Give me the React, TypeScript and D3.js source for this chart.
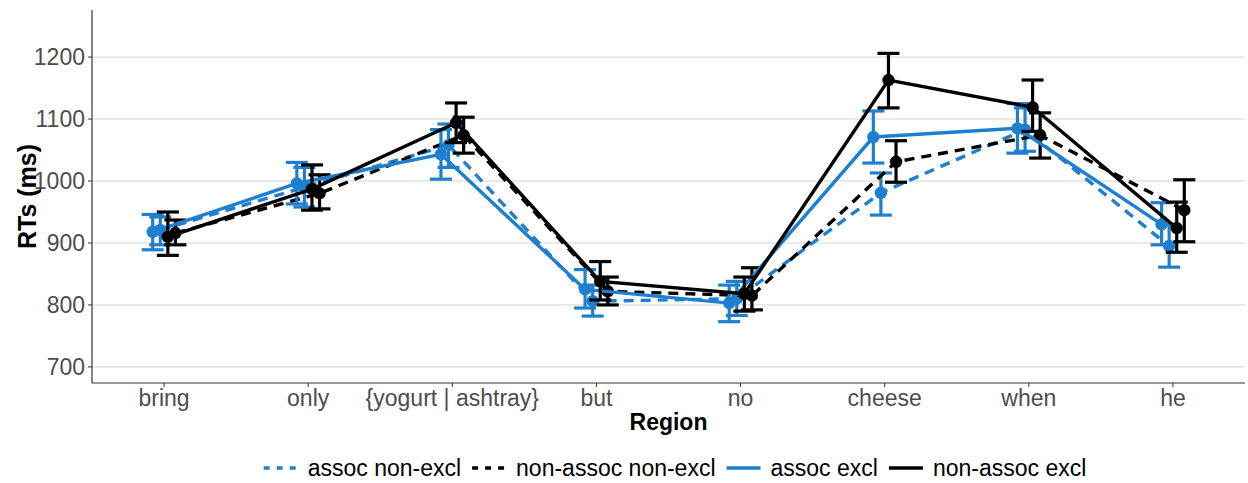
import React from "react";
import * as d3 from "d3";

const regions = ["bring", "only", "{yogurt | ashtray}", "but", "no", "cheese", "when", "he"];

// series in dodge order (alphabetical, as ggplot does)
const seriesNames = ["assoc excl", "assoc non-excl", "non-assoc excl", "non-assoc non-excl"];

const assocExcl = [918, 996, 1043, 825, 803, 1071, 1085, 930];
const assocExclLo = [889, 963, 1003, 795, 773, 1029, 1045, 897];
const assocExclHi = [946, 1030, 1083, 857, 832, 1113, 1125, 965];

const assocNonExcl = [921, 990, 1058, 806, 810, 981, 1083, 895];
const assocNonExclLo = [897, 958, 1022, 782, 783, 945, 1048, 861];
const assocNonExclHi = [942, 1022, 1092, 832, 838, 1013, 1118, 930];

const nonAssocExcl = [910, 987, 1094, 838, 818, 1163, 1119, 924];
const nonAssocExclLo = [880, 953, 1062, 808, 790, 1118, 1080, 885];
const nonAssocExclHi = [950, 1026, 1126, 870, 845, 1206, 1163, 966];

const nonAssocNonExcl = [916, 980, 1074, 822, 815, 1031, 1074, 953];
const nonAssocNonExclLo = [897, 955, 1045, 800, 792, 998, 1037, 902];
const nonAssocNonExclHi = [937, 1010, 1103, 845, 860, 1065, 1110, 1002];

const yTicks = [700, 800, 900, 1000, 1100, 1200];
const legendOrder = ["assoc non-excl", "non-assoc non-excl", "assoc excl", "non-assoc excl"];

const BLUE = "#1f7fcf";
const BLACK = "#000000";

const series = [
  { name: "assoc excl", mean: assocExcl, lo: assocExclLo, hi: assocExclHi, color: BLUE, dashed: false },
  { name: "assoc non-excl", mean: assocNonExcl, lo: assocNonExclLo, hi: assocNonExclHi, color: BLUE, dashed: true },
  { name: "non-assoc excl", mean: nonAssocExcl, lo: nonAssocExclLo, hi: nonAssocExclHi, color: BLACK, dashed: false },
  { name: "non-assoc non-excl", mean: nonAssocNonExcl, lo: nonAssocNonExclLo, hi: nonAssocNonExclHi, color: BLACK, dashed: true },
];

const W = 1248;
const H = 483;
const panel = { left: 92, right: 1245, top: 10, bottom: 383 };
const font = "'Liberation Sans', Arial, sans-serif";
const FS = 23;

function textWidth(s: string, size: number) {
  const c = document.createElement("canvas").getContext("2d");
  if (!c) return s.length * size * 0.5;
  c.font = `${size}px 'Liberation Sans', Arial, sans-serif`;
  return c.measureText(s).width;
}

export default function App() {
  const x = d3
    .scalePoint<string>()
    .domain(regions)
    .range([panel.left, panel.right])
    .padding(0.5);
  const y = d3.scaleLinear().domain([674, 1276]).range([panel.bottom, panel.top]);

  const dodgeWidth = x.step() * 0.21;
  const offset = (name: string) => {
    const i = seriesNames.indexOf(name);
    return (i - (seriesNames.length - 1) / 2) * (dodgeWidth / seriesNames.length);
  };

  const drawOrder = legendOrder.map((n) => series.find((s) => s.name === n)!);
  const capHalf = 11;

  // legend layout: key, gap, label, spacing; centred
  const keyW = 34;
  const keyGap = 10;
  const itemGap = 11;
  const widths = legendOrder.map((n) => textWidth(n, FS));
  const total = d3.sum(widths) + legendOrder.length * (keyW + keyGap) + (legendOrder.length - 1) * itemGap;
  let cursor = 675 - total / 2;
  const legendPos = legendOrder.map((n, i) => {
    const p = { key: cursor, text: cursor + keyW + keyGap };
    cursor += keyW + keyGap + widths[i] + itemGap;
    return p;
  });

  return (
    <svg
      width={W}
      height={H}
      style={{ position: "absolute", left: 0, top: 0, background: "#fff" }}
      fontFamily={font}
    >
      {/* grid */}
      {yTicks.map((t) => (
        <line key={t} x1={panel.left} x2={panel.right} y1={y(t)} y2={y(t)} stroke="#d4d4d4" strokeWidth={1} />
      ))}

      {/* series */}
      {drawOrder.map((s) => {
        const dx = offset(s.name);
        const line = d3
          .line<number>()
          .x((_, i) => x(regions[i])! + dx)
          .y((d) => y(d));
        return (
          <g key={s.name}>
            <path
              d={line(s.mean) || ""}
              fill="none"
              stroke={s.color}
              strokeWidth={3.4}
              strokeDasharray={s.dashed ? "10,7" : undefined}
            />
            {s.mean.map((m, i) => {
              const cx = x(regions[i])! + dx;
              return (
                <g key={i}>
                  <line x1={cx} x2={cx} y1={y(s.lo[i])} y2={y(s.hi[i])} stroke={s.color} strokeWidth={3.2} />
                  <line x1={cx - capHalf} x2={cx + capHalf} y1={y(s.lo[i])} y2={y(s.lo[i])} stroke={s.color} strokeWidth={3.2} />
                  <line x1={cx - capHalf} x2={cx + capHalf} y1={y(s.hi[i])} y2={y(s.hi[i])} stroke={s.color} strokeWidth={3.2} />
                  <circle cx={cx} cy={y(m)} r={6.2} fill={s.color} />
                </g>
              );
            })}
          </g>
        );
      })}

      {/* axes */}
      <line x1={panel.left} x2={panel.left} y1={panel.top} y2={panel.bottom} stroke="#333" strokeWidth={1.2} />
      <line x1={panel.left} x2={panel.right} y1={panel.bottom} y2={panel.bottom} stroke="#333" strokeWidth={1.2} />
      {yTicks.map((t) => (
        <g key={t}>
          <line x1={panel.left - 4} x2={panel.left} y1={y(t)} y2={y(t)} stroke="#333" strokeWidth={1} />
          <text x={panel.left - 7} y={y(t)} dy="0.36em" textAnchor="end" fontSize={FS} fill="#4d4d4d">
            {t}
          </text>
        </g>
      ))}
      {regions.map((r) => (
        <g key={r}>
          <line x1={x(r)} x2={x(r)} y1={panel.bottom} y2={panel.bottom + 4} stroke="#333" strokeWidth={1} />
          <text x={x(r)} y={panel.bottom + 23} textAnchor="middle" fontSize={FS} fill="#4d4d4d">
            {r}
          </text>
        </g>
      ))}

      {/* axis titles */}
      <text x={(panel.left + panel.right) / 2} y={430} textAnchor="middle" fontSize={FS} fontWeight="bold" fill="#000">
        Region
      </text>
      <text
        transform={`translate(36,${(panel.top + panel.bottom) / 2}) rotate(-90)`}
        textAnchor="middle"
        fontSize={25}
        fontWeight="bold"
        fill="#000"
      >
        RTs (ms)
      </text>

      {/* legend */}
      {legendOrder.map((n, i) => {
        const s = series.find((d) => d.name === n)!;
        const p = legendPos[i];
        return (
          <g key={n}>
            <line
              x1={p.key}
              x2={p.key + keyW}
              y1={468}
              y2={468}
              stroke={s.color}
              strokeWidth={3.4}
              strokeDasharray={s.dashed ? "6,7" : undefined}
            />
            <text x={p.text} y={468} dy="0.36em" fontSize={FS} fill="#000">
              {n}
            </text>
          </g>
        );
      })}
    </svg>
  );
}
